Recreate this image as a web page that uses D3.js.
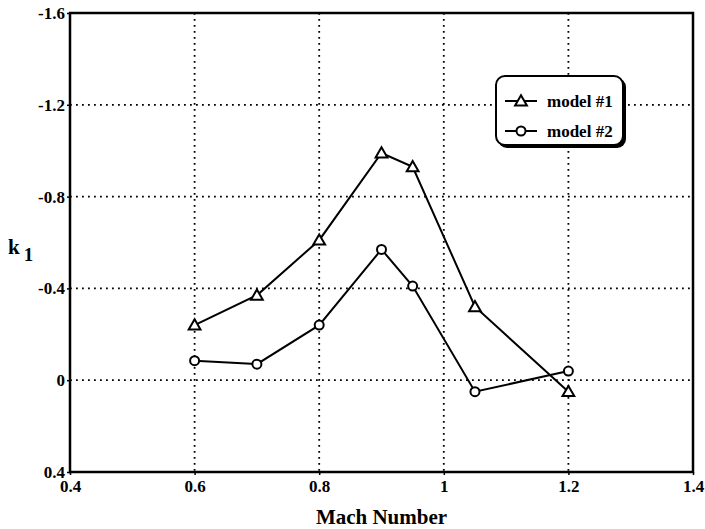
<!DOCTYPE html>
<html>
<head>
<meta charset="utf-8">
<script src="https://cdn.jsdelivr.net/npm/d3@7"></script>
<style>
  body { margin: 0; background: #fff; }
  svg text { font-family: "Liberation Serif", "Times New Roman", serif; font-weight: bold; fill: #000; }
</style>
</head>
<body>
<svg id="canvas" width="705" height="529"></svg>
<script>
// data
const mach = [0.6, 0.7, 0.8, 0.9, 0.95, 1.05, 1.2];
const model1 = [-0.24, -0.37, -0.61, -0.99, -0.93, -0.32, 0.05];
const model2 = [-0.085, -0.07, -0.24, -0.57, -0.41, 0.05, -0.04];
const seriesNames = ['model #1', 'model #2'];
const xTicks = [0.4, 0.6, 0.8, 1, 1.2, 1.4];
const yTicks = [-1.6, -1.2, -0.8, -0.4, 0, 0.4];

const svg = d3.select('#canvas');
const margin = { left: 70, right: 12, top: 13, bottom: 57 };
const width = 705, height = 529;

const x = d3.scaleLinear().domain([0.4, 1.4]).range([margin.left, width - margin.right]);
// y axis runs inverted: -1.6 at top, 0.4 at bottom
const y = d3.scaleLinear().domain([-1.6, 0.4]).range([margin.top, height - margin.bottom]);

const fmt = d => (d === 0 || d === 1) ? String(d) : d3.format('.1f')(d).replace('−', '-');

// dotted grid
svg.append('g').selectAll('line')
    .data(xTicks.slice(1, -1))
    .join('line')
    .attr('x1', d => x(d)).attr('x2', d => x(d))
    .attr('y1', y(-1.6)).attr('y2', y(0.4))
    .attr('stroke', '#000').attr('stroke-width', 1.8)
    .attr('stroke-dasharray', '1.8,4.2');

svg.append('g').selectAll('line')
    .data(yTicks.slice(1, -1))
    .join('line')
    .attr('x1', x(0.4)).attr('x2', x(1.4))
    .attr('y1', d => y(d)).attr('y2', d => y(d))
    .attr('stroke', '#000').attr('stroke-width', 1.8)
    .attr('stroke-dasharray', '1.8,4.2');

// axes
const xAxis = svg.append('g')
    .attr('transform', `translate(0,${y(0.4)})`)
    .call(d3.axisBottom(x).tickValues(xTicks).tickFormat(fmt).tickSize(3).tickPadding(3));
const yAxis = svg.append('g')
    .attr('transform', `translate(${x(0.4)},0)`)
    .call(d3.axisLeft(y).tickValues(yTicks).tickFormat(fmt).tickSize(3).tickPadding(2));

[xAxis, yAxis].forEach(a => {
    a.select('.domain').remove();
    a.selectAll('line').attr('stroke-width', 1.5);
    a.selectAll('text').style('font-size', '17px').attr('fill', '#000');
});
xAxis.selectAll('text').attr('dy', '0.8em');

// frame
svg.append('rect')
    .attr('x', x(0.4)).attr('y', y(-1.6))
    .attr('width', x(1.4) - x(0.4)).attr('height', y(0.4) - y(-1.6))
    .attr('fill', 'none').attr('stroke', '#000').attr('stroke-width', 2.5);

// axis titles
svg.append('text')
    .attr('x', (x(0.4) + x(1.4)) / 2).attr('y', 524)
    .attr('text-anchor', 'middle')
    .style('font-size', '21px')
    .text('Mach Number');

const kLabel = svg.append('text').attr('x', 8).attr('y', 254).style('font-size', '21px');
kLabel.append('tspan').text('k');
kLabel.append('tspan').attr('dx', 4).attr('dy', 7).style('font-size', '19px').text('1');

// series
const line = d3.line().x(d => x(d[0])).y(d => y(d[1]));
const tri = d3.symbol().type(d3.symbolTriangle).size(60);

const s1 = mach.map((m, i) => [m, model1[i]]);
const s2 = mach.map((m, i) => [m, model2[i]]);

svg.append('path').datum(s1).attr('d', line)
    .attr('fill', 'none').attr('stroke', '#000').attr('stroke-width', 2);
svg.append('path').datum(s2).attr('d', line)
    .attr('fill', 'none').attr('stroke', '#000').attr('stroke-width', 2);

svg.append('g').selectAll('path')
    .data(s1)
    .join('path')
    .attr('d', tri)
    .attr('transform', d => `translate(${x(d[0])},${y(d[1]) + 1})`)
    .attr('fill', '#fff').attr('stroke', '#000').attr('stroke-width', 2);

svg.append('g').selectAll('circle')
    .data(s2)
    .join('circle')
    .attr('cx', d => x(d[0])).attr('cy', d => y(d[1]))
    .attr('r', 4.5)
    .attr('fill', '#fff').attr('stroke', '#000').attr('stroke-width', 2);

// legend
const lg = svg.append('g').attr('transform', 'translate(496,76)');
lg.append('rect')
    .attr('x', 2).attr('y', 2).attr('width', 128).attr('height', 70).attr('rx', 9)
    .attr('fill', '#000');
lg.append('rect')
    .attr('width', 127).attr('height', 69).attr('rx', 9)
    .attr('fill', '#fff').attr('stroke', '#000').attr('stroke-width', 2);

seriesNames.forEach((name, i) => {
    const row = lg.append('g').attr('transform', `translate(0,${25 + i * 30})`);
    row.append('line').attr('x1', 9).attr('x2', 41)
        .attr('stroke', '#000').attr('stroke-width', 2);
    if (i === 0) {
        row.append('path').attr('d', tri).attr('transform', 'translate(25,1)')
            .attr('fill', '#fff').attr('stroke', '#000').attr('stroke-width', 2);
    } else {
        row.append('circle').attr('cx', 25).attr('r', 4.5)
            .attr('fill', '#fff').attr('stroke', '#000').attr('stroke-width', 2);
    }
    row.append('text').attr('x', 51).attr('dy', '0.35em')
        .style('font-size', '17px').text(name);
});
</script>
</body>
</html>
